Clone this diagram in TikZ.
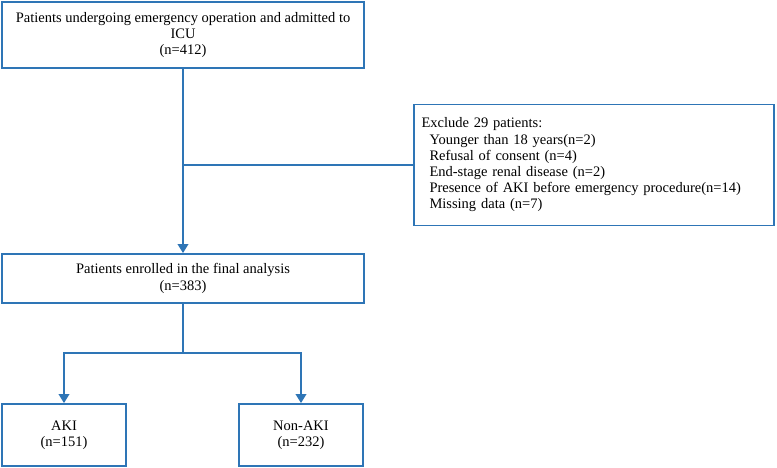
\documentclass[tikz,border=0pt]{standalone}
\usepackage{fontspec}
\setmainfont{Liberation Serif}
\usetikzlibrary{arrows.meta}
\definecolor{flowblue}{RGB}{46,117,182}
\tikzset{
    box/.style={draw=flowblue, line width=1.8pt, align=center, inner sep=2pt, font=\fontsize{14.5}{16.2}\selectfont},
    link/.style={draw=flowblue, line width=1.8pt},
    arr/.style={link, -{Triangle[width=10.5pt,length=9pt]}}
}
\begin{document}
\begin{tikzpicture}[x=1pt,y=-1pt]
    \useasboundingbox (0,0) rectangle (777,468);
    \node[box, minimum width=362pt, minimum height=66pt] (icu) at (183,35) {Patients undergoing emergency operation and admitted to\\ICU\\(n=412)};
    \node[box, minimum width=360pt, minimum height=121pt, align=left, text width=345pt, inner xsep=7.5pt] (excl) at (594,165) {Exclude 29 patients:\\
        \hspace*{8pt}Younger than 18 years(n=2)\\
        \hspace*{8pt}Refusal of consent (n=4)\\
        \hspace*{8pt}End-stage renal disease (n=2)\\
        \hspace*{8pt}Presence of AKI before emergency procedure(n=14)\\
        \hspace*{8pt}Missing data (n=7)};
    \node[box, minimum width=362pt, minimum height=49pt] (enrol) at (183,278.5) {Patients enrolled in the final analysis\\(n=383)};
    \node[box, minimum width=124pt, minimum height=62pt] (aki) at (64,435) {AKI\\(n=151)};
    \node[box, minimum width=124pt, minimum height=62pt] (nonaki) at (301,435) {Non-AKI\\(n=232)};

    \coordinate (split) at (183,353);

    \draw[arr] (icu.south) -- (enrol.north);
    \draw[link] (icu.south |- excl.west) -- (excl.west);
    \draw[link] (enrol.south) -- (split);
    \draw[arr] (split) -| (aki.north);
    \draw[arr] (split) -| (nonaki.north);
\end{tikzpicture}
\end{document}
